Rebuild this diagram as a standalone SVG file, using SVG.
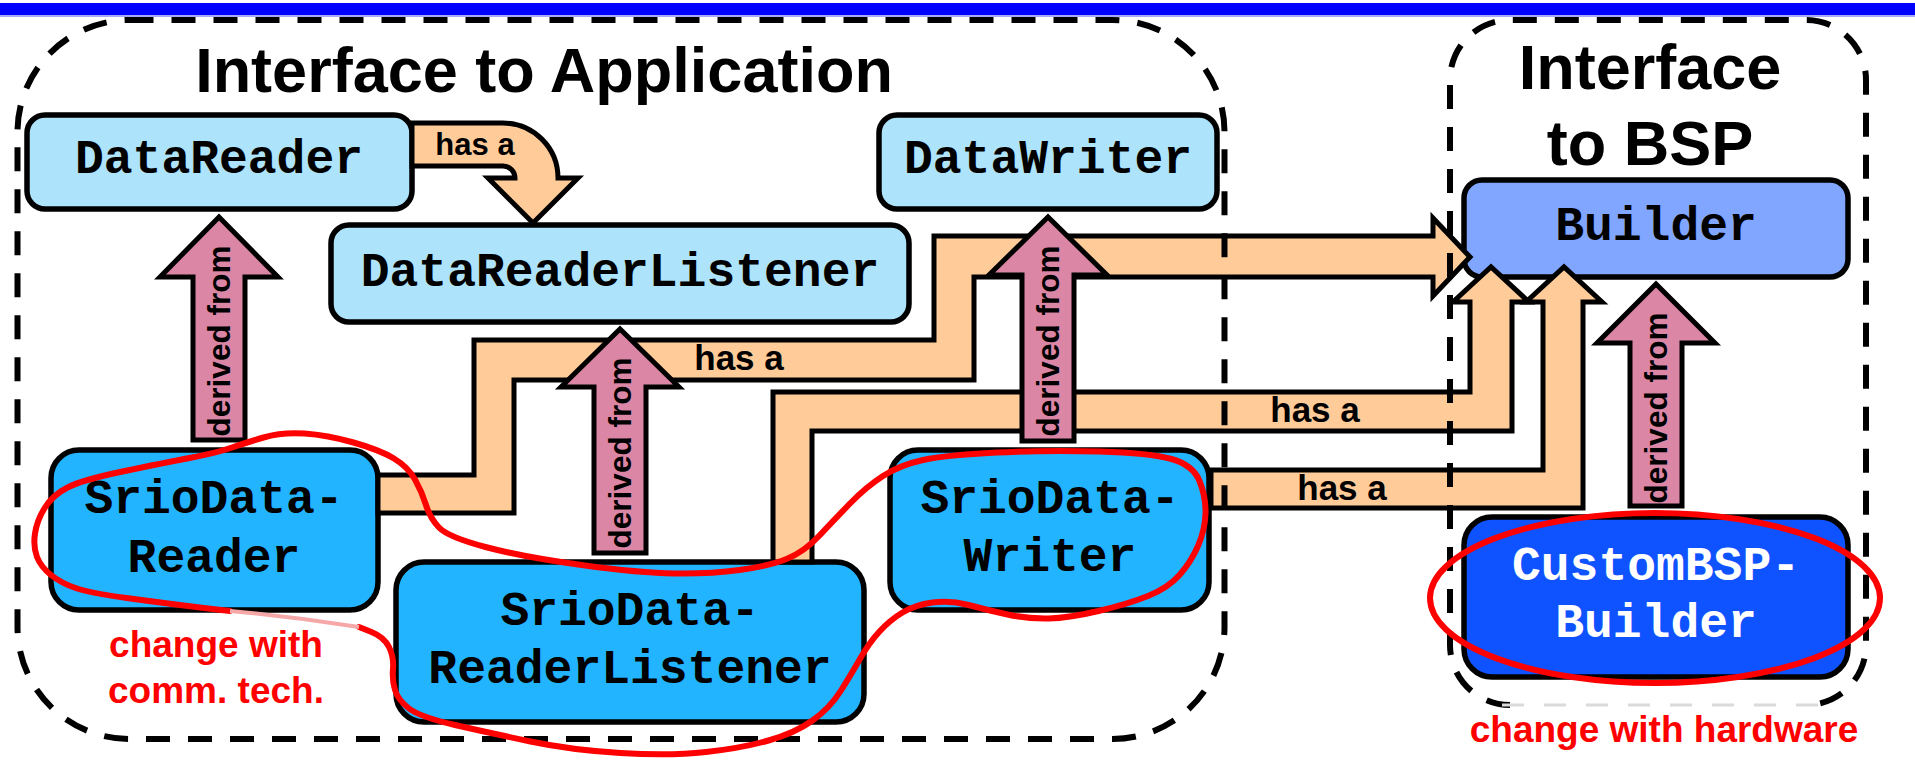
<svg xmlns="http://www.w3.org/2000/svg" width="1915" height="760" viewBox="0 0 1915 760">
  <style>
    .box { stroke: #000; stroke-width: 5.5; }
    .light { fill: #ADE4FB; }
    .srio { fill: #22B4FF; }
    .builder { fill: #80A6FF; }
    .custom { fill: #0F52FF; }
    .code { font-family: "Liberation Mono", "Courier New", monospace; font-weight: bold; font-size: 48px; text-anchor: middle; fill: #000; }
    .code.white { fill: #fff; }
    .hasa { fill: #FFCC99; stroke: #000; stroke-width: 5; stroke-linejoin: miter; }
    .derived { fill: #DC86A6; stroke: #000; stroke-width: 5; stroke-linejoin: miter; }
    .lbl { font-family: "Liberation Sans", Arial, sans-serif; font-weight: bold; text-anchor: middle; fill: #000; }
    .lbl-has { font-size: 35px; }
    .lbl-der { font-size: 31.5px; }
    .title { font-family: "Liberation Sans", Arial, sans-serif; font-weight: bold; font-size: 63px; text-anchor: middle; fill: #000; }
    .container { fill: none; stroke: #000; stroke-width: 6; stroke-dasharray: 24 18; }
    .mark { fill: none; stroke: #FF0000; stroke-width: 6; stroke-linecap: round; stroke-linejoin: round; }
    .note { font-family: "Liberation Sans", Arial, sans-serif; font-weight: bold; font-size: 37px; text-anchor: middle; fill: #FF0000; }
  </style>

  <!-- page header bar -->
  <rect x="0" y="3" width="1915" height="12" fill="#0000FF"/>
  <rect x="0" y="15" width="1915" height="2" fill="#A8A8FF"/>

  <!-- nodes -->
  <g id="dataReader">
    <rect class="box light" x="27" y="115" width="385" height="94" rx="18"/>
    <text class="code" x="219" y="173">DataReader</text>
  </g>
  <g id="dataReaderListener">
    <rect class="box light" x="331" y="225" width="578" height="97" rx="18"/>
    <text class="code" x="620" y="286">DataReaderListener</text>
  </g>
  <g id="dataWriter">
    <rect class="box light" x="879" y="115" width="338" height="94" rx="18"/>
    <text class="code" x="1048" y="173">DataWriter</text>
  </g>
  <g id="builder">
    <rect class="box builder" x="1464" y="180" width="384" height="97" rx="18"/>
    <text class="code" x="1656" y="240">Builder</text>
  </g>
  <g id="srioDataReader">
    <rect class="box srio" x="51" y="450" width="327" height="160" rx="28"/>
    <text class="code" x="214" y="513">SrioData-</text>
    <text class="code" x="214" y="572">Reader</text>
  </g>
  <g id="srioDataReaderListener">
    <rect class="box srio" x="396" y="562" width="468" height="160" rx="28"/>
    <text class="code" x="630" y="625">SrioData-</text>
    <text class="code" x="630" y="683">ReaderListener</text>
  </g>
  <g id="srioDataWriter">
    <rect class="box srio" x="890" y="450" width="319" height="160" rx="28"/>
    <text class="code" x="1050" y="513">SrioData-</text>
    <text class="code" x="1050" y="571">Writer</text>
  </g>
  <g id="customBSPBuilder">
    <rect class="box custom" x="1464" y="517" width="384" height="160" rx="28"/>
    <text class="code white" x="1656" y="580">CustomBSP-</text>
    <text class="code white" x="1656" y="637">Builder</text>
  </g>

  <!-- connectors: "has a" bands and "derived from" arrows -->
  <g id="connectors">
    <path class="hasa" d="M412,123 H503 A55,55 0 0 1 558,178 H578 L533,223 L488,178 H515 A12,12 0 0 0 503,166 H412 Z"/>
    <text class="lbl" x="475" y="155" font-size="31">has a</text>

    <path class="hasa" d="M378,475 H474 V340 H934 V236 H1433 V218 L1470,257 L1433,296 V277 H974 V380 H514 V513 H378 Z"/>
    <text class="lbl lbl-has" x="739" y="370">has a</text>

    <path class="hasa" d="M773,562 V392 H1470 V302 H1453 L1491,267 L1529,302 H1512 V431 H812 V562 Z"/>
    <text class="lbl lbl-has" x="1315" y="422">has a</text>

    <path class="hasa" d="M1211,470 H1543 V302 H1526 L1564,267 L1602,302 H1583 V508 H1211 Z"/>
    <text class="lbl lbl-has" x="1342" y="500">has a</text>

    <path class="derived" d="M193,440 V277 H160 L219,217 L278,277 H245 V440 Z"/>
    <text class="lbl lbl-der" transform="translate(219,341) rotate(-90)" x="0" y="11">derived from</text>

    <path class="derived" d="M594,553 V387 H561 L620,329 L679,387 H646 V553 Z"/>
    <text class="lbl lbl-der" transform="translate(620,453) rotate(-90)" x="0" y="11">derived from</text>

    <path class="derived" d="M1022,441 V275 H989 L1048,217 L1107,275 H1074 V441 Z"/>
    <text class="lbl lbl-der" transform="translate(1048,341) rotate(-90)" x="0" y="11">derived from</text>

    <path class="derived" d="M1630,506 V343 H1597 L1656,284 L1715,343 H1682 V506 Z"/>
    <text class="lbl lbl-der" transform="translate(1656,408) rotate(-90)" x="0" y="11">derived from</text>
  </g>

  <!-- interface boundaries -->
  <g id="appInterface">
    <rect class="container" x="17.5" y="20" width="1207" height="719" rx="112"/>
    <text class="title" x="544" y="92">Interface to Application</text>
  </g>
  <g id="bspInterface">
    <path class="container" d="M1510,705 A60,60 0 0 1 1450,645 V80 A60,60 0 0 1 1510,20 H1806 A60,60 0 0 1 1866,80 V645 A60,60 0 0 1 1806,705"/>
    <line x1="1502" y1="705" x2="1820" y2="705" stroke="#DADADA" stroke-width="3" stroke-dasharray="22 20"/>
    <text class="title" x="1650" y="89">Interface</text>
    <text class="title" x="1650" y="165">to BSP</text>
  </g>

  <!-- change annotations -->
  <g id="commTechMark">
    <path class="mark" d="M230,611 L204,608 Q163,603 126.5,598 Q90,593 75.5,588 Q61,583 51,575 Q41,567 37,557 Q33,547 35,533.5 Q37,520 45,507.5 Q53,495 67.5,487.5 Q82,480 122.5,471.5 Q163,463 189.5,458 Q216,453 230.5,448 Q245,443 263.5,437.5 Q282,432 304.5,433.5 Q327,435 353.5,442.5 Q380,450 394,458.5 Q408,467 415,479.5 Q422,492 426,505 Q430,518 439,527.5 Q448,537 485.5,547 Q523,557 581.5,565 Q640,573 675,573.5 Q710,574 739.5,570 Q769,566 786.5,559 Q804,552 819,536 Q834,520 850,503.5 Q866,487 883,476 Q900,465 923,460 Q946,455 997,452.5 Q1048,450 1099,451.5 Q1150,453 1171.5,459 Q1193,465 1199.5,481 Q1206,497 1205.5,513.5 Q1205,530 1198,546 Q1191,562 1179.5,575 Q1168,588 1148,596 Q1128,604 1098.5,611 Q1069,618 1048.5,618.5 Q1028,619 1007.5,614.5 Q987,610 968.5,605 Q950,600 932.5,602.5 Q915,605 902.5,612.5 Q890,620 879.5,631.5 Q869,643 860.5,658 Q852,673 841,690.5 Q830,708 812.5,720.5 Q795,733 768.5,740.5 Q742,748 706,752 Q670,756 620.5,753 Q571,750 530.5,741.5 Q490,733 455,725 Q420,717 409,708.5 Q398,700 395,690 Q392,680 393,668.5 Q394,657 389,647 Q384,637 371.5,632 L359,627"/>
    <path d="M359,627 Q295,617 230,611" fill="none" stroke="#F6A8A8" stroke-width="4"/>
    <text class="note" x="216" y="657">change with</text>
    <text class="note" x="216" y="703">comm. tech.</text>
  </g>
  <g id="hardwareMark">
    <ellipse class="mark" cx="1655" cy="598" rx="225" ry="85"/>
    <text class="note" x="1664" y="742">change with hardware</text>
  </g>
</svg>
